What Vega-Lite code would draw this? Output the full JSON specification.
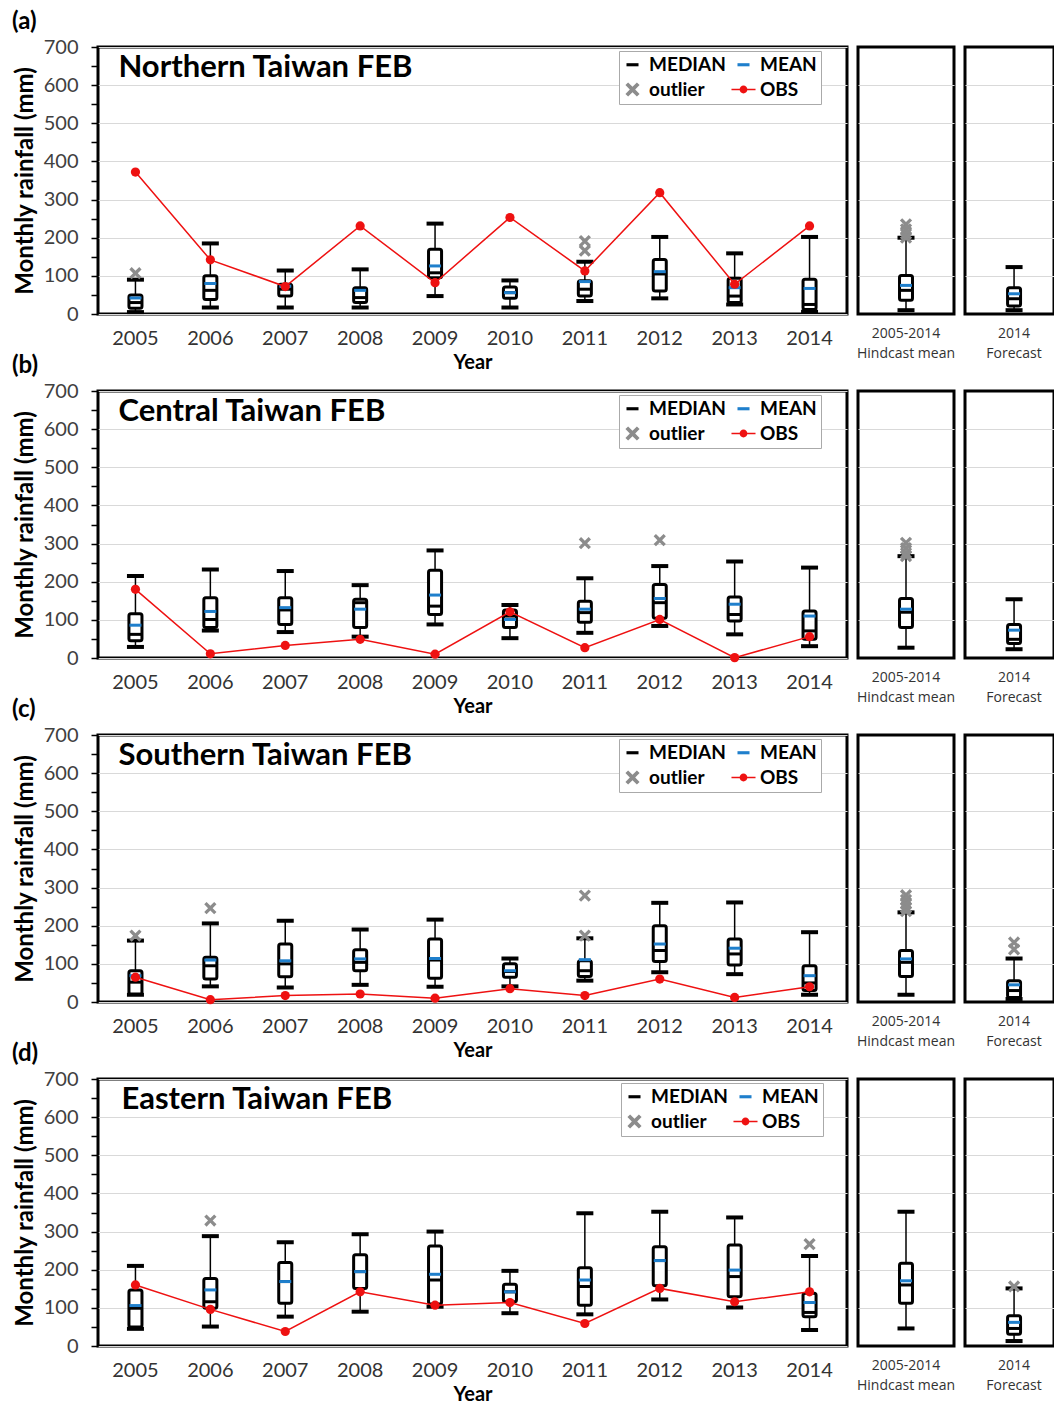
{
"$schema":"https://vega.github.io/schema/vega-lite/v6.json",
"padding":{"left":10,"top":8,"right":2,"bottom":2},
"bounds":"flush",
"columns":3,
"spacing":{"row":77,"column":11},
"config":{"view":{"stroke":"black","strokeWidth":3},"axis":{"gridColor":"#d9d9d9","gridWidth":1},"axisY":{"labelOverlap":false}},
"resolve":{"scale":{"color":"independent","shape":"independent"},"legend":{"color":"independent","shape":"independent"}},
"datasets":{
"box":[
{"r":"N","p":"m","x":"2005","lo":5,"q1":15,"md":30,"q3":50,"hi":90,"mn":42,"ob":372},
{"r":"N","p":"m","x":"2006","lo":17,"q1":38,"md":62,"q3":100,"hi":185,"mn":80,"ob":142},
{"r":"N","p":"m","x":"2007","lo":17,"q1":47,"md":65,"q3":78,"hi":114,"mn":73,"ob":72},
{"r":"N","p":"m","x":"2008","lo":17,"q1":30,"md":43,"q3":69,"hi":117,"mn":62,"ob":231},
{"r":"N","p":"m","x":"2009","lo":47,"q1":95,"md":108,"q3":170,"hi":237,"mn":126,"ob":82},
{"r":"N","p":"m","x":"2010","lo":17,"q1":41,"md":56,"q3":71,"hi":88,"mn":56,"ob":253},
{"r":"N","p":"m","x":"2011","lo":34,"q1":47,"md":65,"q3":87,"hi":137,"mn":85,"ob":113},
{"r":"N","p":"m","x":"2012","lo":41,"q1":60,"md":105,"q3":143,"hi":202,"mn":111,"ob":318},
{"r":"N","p":"m","x":"2013","lo":25,"q1":30,"md":47,"q3":94,"hi":159,"mn":69,"ob":78},
{"r":"N","p":"m","x":"2014","lo":6,"q1":12,"md":25,"q3":91,"hi":202,"mn":67,"ob":231},
{"r":"N","p":"h","x":"2005-2014|Hindcast mean","lo":10,"q1":36,"md":62,"q3":101,"hi":200,"mn":75},
{"r":"N","p":"f","x":"2014|Forecast","lo":10,"q1":21,"md":40,"q3":69,"hi":123,"mn":53},
{"r":"C","p":"m","x":"2005","lo":29,"q1":45,"md":62,"q3":116,"hi":215,"mn":86,"ob":180},
{"r":"C","p":"m","x":"2006","lo":72,"q1":80,"md":101,"q3":158,"hi":232,"mn":122,"ob":11},
{"r":"C","p":"m","x":"2007","lo":68,"q1":88,"md":126,"q3":158,"hi":228,"mn":132,"ob":33},
{"r":"C","p":"m","x":"2008","lo":56,"q1":80,"md":145,"q3":154,"hi":191,"mn":128,"ob":49},
{"r":"C","p":"m","x":"2009","lo":88,"q1":114,"md":136,"q3":230,"hi":282,"mn":165,"ob":10},
{"r":"C","p":"m","x":"2010","lo":52,"q1":80,"md":110,"q3":126,"hi":139,"mn":101,"ob":121},
{"r":"C","p":"m","x":"2011","lo":66,"q1":94,"md":119,"q3":149,"hi":209,"mn":128,"ob":27},
{"r":"C","p":"m","x":"2012","lo":84,"q1":104,"md":145,"q3":193,"hi":241,"mn":156,"ob":101},
{"r":"C","p":"m","x":"2013","lo":62,"q1":97,"md":114,"q3":160,"hi":253,"mn":141,"ob":1},
{"r":"C","p":"m","x":"2014","lo":31,"q1":49,"md":71,"q3":123,"hi":237,"mn":110,"ob":56},
{"r":"C","p":"h","x":"2005-2014|Hindcast mean","lo":27,"q1":80,"md":120,"q3":156,"hi":267,"mn":128},
{"r":"C","p":"f","x":"2014|Forecast","lo":23,"q1":38,"md":49,"q3":88,"hi":154,"mn":73},
{"r":"S","p":"m","x":"2005","lo":19,"q1":21,"md":52,"q3":82,"hi":161,"mn":69,"ob":65},
{"r":"S","p":"m","x":"2006","lo":41,"q1":60,"md":95,"q3":117,"hi":206,"mn":110,"ob":6},
{"r":"S","p":"m","x":"2007","lo":38,"q1":66,"md":100,"q3":152,"hi":213,"mn":108,"ob":17},
{"r":"S","p":"m","x":"2008","lo":45,"q1":82,"md":104,"q3":137,"hi":190,"mn":113,"ob":21},
{"r":"S","p":"m","x":"2009","lo":40,"q1":62,"md":110,"q3":165,"hi":216,"mn":114,"ob":10},
{"r":"S","p":"m","x":"2010","lo":41,"q1":65,"md":80,"q3":100,"hi":114,"mn":82,"ob":35},
{"r":"S","p":"m","x":"2011","lo":56,"q1":67,"md":82,"q3":108,"hi":167,"mn":111,"ob":17},
{"r":"S","p":"m","x":"2012","lo":78,"q1":106,"md":135,"q3":200,"hi":260,"mn":152,"ob":60},
{"r":"S","p":"m","x":"2013","lo":73,"q1":97,"md":126,"q3":165,"hi":261,"mn":141,"ob":12},
{"r":"S","p":"m","x":"2014","lo":19,"q1":30,"md":50,"q3":95,"hi":183,"mn":69,"ob":40},
{"r":"S","p":"h","x":"2005-2014|Hindcast mean","lo":19,"q1":67,"md":104,"q3":135,"hi":235,"mn":113},
{"r":"S","p":"f","x":"2014|Forecast","lo":8,"q1":12,"md":30,"q3":56,"hi":114,"mn":45},
{"r":"E","p":"m","x":"2005","lo":45,"q1":50,"md":99,"q3":147,"hi":210,"mn":106,"ob":160},
{"r":"E","p":"m","x":"2006","lo":51,"q1":99,"md":116,"q3":177,"hi":288,"mn":147,"ob":96},
{"r":"E","p":"m","x":"2007","lo":77,"q1":112,"md":169,"q3":219,"hi":272,"mn":169,"ob":38},
{"r":"E","p":"m","x":"2008","lo":90,"q1":151,"md":195,"q3":239,"hi":293,"mn":195,"ob":142},
{"r":"E","p":"m","x":"2009","lo":103,"q1":110,"md":173,"q3":262,"hi":300,"mn":188,"ob":107},
{"r":"E","p":"m","x":"2010","lo":86,"q1":116,"md":142,"q3":162,"hi":197,"mn":142,"ob":114},
{"r":"E","p":"m","x":"2011","lo":83,"q1":107,"md":156,"q3":205,"hi":348,"mn":173,"ob":59},
{"r":"E","p":"m","x":"2012","lo":122,"q1":158,"md":224,"q3":260,"hi":352,"mn":224,"ob":151},
{"r":"E","p":"m","x":"2013","lo":101,"q1":129,"md":182,"q3":265,"hi":337,"mn":199,"ob":116},
{"r":"E","p":"m","x":"2014","lo":42,"q1":77,"md":88,"q3":138,"hi":236,"mn":114,"ob":142},
{"r":"E","p":"h","x":"2005-2014|Hindcast mean","lo":46,"q1":112,"md":160,"q3":217,"hi":352,"mn":171},
{"r":"E","p":"f","x":"2014|Forecast","lo":13,"q1":31,"md":46,"q3":79,"hi":151,"mn":62}
],
"out":[
{"r":"N","p":"m","x":"2005","v":107},
{"r":"N","p":"m","x":"2011","v":191},
{"r":"N","p":"m","x":"2011","v":166},
{"r":"N","p":"h","x":"2005-2014|Hindcast mean","v":235},
{"r":"N","p":"h","x":"2005-2014|Hindcast mean","v":222},
{"r":"N","p":"h","x":"2005-2014|Hindcast mean","v":210},
{"r":"N","p":"h","x":"2005-2014|Hindcast mean","v":200},
{"r":"C","p":"m","x":"2011","v":301},
{"r":"C","p":"m","x":"2012","v":309},
{"r":"C","p":"h","x":"2005-2014|Hindcast mean","v":302},
{"r":"C","p":"h","x":"2005-2014|Hindcast mean","v":288},
{"r":"C","p":"h","x":"2005-2014|Hindcast mean","v":275},
{"r":"C","p":"h","x":"2005-2014|Hindcast mean","v":267},
{"r":"S","p":"m","x":"2005","v":174},
{"r":"S","p":"m","x":"2006","v":246},
{"r":"S","p":"m","x":"2011","v":279},
{"r":"S","p":"m","x":"2011","v":174},
{"r":"S","p":"h","x":"2005-2014|Hindcast mean","v":280},
{"r":"S","p":"h","x":"2005-2014|Hindcast mean","v":268},
{"r":"S","p":"h","x":"2005-2014|Hindcast mean","v":257},
{"r":"S","p":"h","x":"2005-2014|Hindcast mean","v":247},
{"r":"S","p":"h","x":"2005-2014|Hindcast mean","v":238},
{"r":"S","p":"f","x":"2014|Forecast","v":156},
{"r":"S","p":"f","x":"2014|Forecast","v":138},
{"r":"E","p":"m","x":"2006","v":329},
{"r":"E","p":"m","x":"2014","v":267},
{"r":"E","p":"f","x":"2014|Forecast","v":156}
],
"leg":[{"s":"MEDIAN","x":"2014"},{"s":"MEAN","x":"2014"},{"s":"outlier","x":"2014"},{"s":"OBS","x":"2014"}]
},
"concat":[
{"width":749,"height":267,
"title":{"text":"(a)","anchor":"start","frame":"group","dx":-86,"offset":-21,"baseline":"bottom","fontSize":24,"font":"Lato","fontWeight":"bold","color":"black"},
"data":{"name":"box"},"transform":[{"filter":"datum.r=='N' && datum.p=='m'"}],
"encoding":{"x":{"field":"x","type":"nominal","scale":{"domain":["2005","2006","2007","2008","2009","2010","2011","2012","2013","2014"],"paddingInner":0.826,"paddingOuter":0.413},"axis":{"labelAngle":0,"ticks":false,"tickSize":0,"domain":false,"labelPadding":14,"labelFont":"Lato","labelFontSize":20,"labelColor":"#333333","title":"Year","titleFont":"Lato","titleFontSize":20,"titleFontWeight":"bold","titleColor":"black","titlePadding":4}}},
"layer":[
{"mark":{"type":"rule","color":"black","strokeWidth":1.5},"encoding":{"y":{"field":"lo","type":"quantitative","title":"Monthly rainfall (mm)","scale":{"domain":[0,700],"nice":false},"axis":{"values":[0,50,100,150,200,250,300,350,400,450,500,550,600,650,700],"labelOpacity":{"condition":{"test":"datum.value % 100 == 0","value":1},"value":0},"gridOpacity":{"condition":{"test":"datum.value % 100 == 0","value":1},"value":0},"labelOverlap":false,"grid":true,"domain":false,"ticks":true,"tickSize":7,"tickWidth":1.5,"tickColor":"black","labelPadding":13,"labelFont":"Lato","labelFontSize":20,"labelColor":"#404040","titleFont":"Lato","titleFontSize":24,"titleFontWeight":"bold","titleColor":"black","titlePadding":6}},"y2":{"field":"hi"}}},
{"mark":{"type":"tick","color":"black","thickness":4,"size":17,"opacity":1},"encoding":{"y":{"field":"lo","type":"quantitative","title":"Monthly rainfall (mm)","axis":{"values":[0,50,100,150,200,250,300,350,400,450,500,550,600,650,700],"labelOpacity":{"condition":{"test":"datum.value % 100 == 0","value":1},"value":0},"gridOpacity":{"condition":{"test":"datum.value % 100 == 0","value":1},"value":0},"labelOverlap":false,"grid":true,"domain":false,"ticks":true,"tickSize":7,"tickWidth":1.5,"tickColor":"black","labelPadding":13,"labelFont":"Lato","labelFontSize":20,"labelColor":"#404040","titleFont":"Lato","titleFontSize":24,"titleFontWeight":"bold","titleColor":"black","titlePadding":6}}}},
{"mark":{"type":"tick","color":"black","thickness":4,"size":17,"opacity":1},"encoding":{"y":{"field":"hi","type":"quantitative","title":"Monthly rainfall (mm)","axis":{"values":[0,50,100,150,200,250,300,350,400,450,500,550,600,650,700],"labelOpacity":{"condition":{"test":"datum.value % 100 == 0","value":1},"value":0},"gridOpacity":{"condition":{"test":"datum.value % 100 == 0","value":1},"value":0},"labelOverlap":false,"grid":true,"domain":false,"ticks":true,"tickSize":7,"tickWidth":1.5,"tickColor":"black","labelPadding":13,"labelFont":"Lato","labelFontSize":20,"labelColor":"#404040","titleFont":"Lato","titleFontSize":24,"titleFontWeight":"bold","titleColor":"black","titlePadding":6}}}},
{"mark":{"type":"bar","fill":"white","stroke":"black","strokeWidth":3,"cornerRadius":2},"encoding":{"y":{"field":"q1","type":"quantitative","title":"Monthly rainfall (mm)","axis":{"values":[0,50,100,150,200,250,300,350,400,450,500,550,600,650,700],"labelOpacity":{"condition":{"test":"datum.value % 100 == 0","value":1},"value":0},"gridOpacity":{"condition":{"test":"datum.value % 100 == 0","value":1},"value":0},"labelOverlap":false,"grid":true,"domain":false,"ticks":true,"tickSize":7,"tickWidth":1.5,"tickColor":"black","labelPadding":13,"labelFont":"Lato","labelFontSize":20,"labelColor":"#404040","titleFont":"Lato","titleFontSize":24,"titleFontWeight":"bold","titleColor":"black","titlePadding":6}},"y2":{"field":"q3"}}},
{"mark":{"type":"tick","color":"black","thickness":3,"size":12,"opacity":1},"encoding":{"y":{"field":"md","type":"quantitative","title":"Monthly rainfall (mm)","axis":{"values":[0,50,100,150,200,250,300,350,400,450,500,550,600,650,700],"labelOpacity":{"condition":{"test":"datum.value % 100 == 0","value":1},"value":0},"gridOpacity":{"condition":{"test":"datum.value % 100 == 0","value":1},"value":0},"labelOverlap":false,"grid":true,"domain":false,"ticks":true,"tickSize":7,"tickWidth":1.5,"tickColor":"black","labelPadding":13,"labelFont":"Lato","labelFontSize":20,"labelColor":"#404040","titleFont":"Lato","titleFontSize":24,"titleFontWeight":"bold","titleColor":"black","titlePadding":6}}}},
{"mark":{"type":"tick","color":"#1f7fcc","thickness":3,"size":12,"opacity":1},"encoding":{"y":{"field":"mn","type":"quantitative","title":"Monthly rainfall (mm)","axis":{"values":[0,50,100,150,200,250,300,350,400,450,500,550,600,650,700],"labelOpacity":{"condition":{"test":"datum.value % 100 == 0","value":1},"value":0},"gridOpacity":{"condition":{"test":"datum.value % 100 == 0","value":1},"value":0},"labelOverlap":false,"grid":true,"domain":false,"ticks":true,"tickSize":7,"tickWidth":1.5,"tickColor":"black","labelPadding":13,"labelFont":"Lato","labelFontSize":20,"labelColor":"#404040","titleFont":"Lato","titleFontSize":24,"titleFontWeight":"bold","titleColor":"black","titlePadding":6}}}},
{"data":{"name":"out"},"transform":[{"filter":"datum.r=='N' && datum.p=='m'"}],"mark":{"type":"point","shape":"M-0.62,-1L0,-0.38L0.62,-1L1,-0.62L0.38,0L1,0.62L0.62,1L0,0.38L-0.62,1L-1,0.62L-0.38,0L-1,-0.62Z","filled":true,"color":"#8c8c8c","size":150,"opacity":1},"encoding":{"y":{"field":"v","type":"quantitative","title":"Monthly rainfall (mm)","axis":{"values":[0,50,100,150,200,250,300,350,400,450,500,550,600,650,700],"labelOpacity":{"condition":{"test":"datum.value % 100 == 0","value":1},"value":0},"gridOpacity":{"condition":{"test":"datum.value % 100 == 0","value":1},"value":0},"labelOverlap":false,"grid":true,"domain":false,"ticks":true,"tickSize":7,"tickWidth":1.5,"tickColor":"black","labelPadding":13,"labelFont":"Lato","labelFontSize":20,"labelColor":"#404040","titleFont":"Lato","titleFontSize":24,"titleFontWeight":"bold","titleColor":"black","titlePadding":6}}}},
{"mark":{"type":"line","color":"#ee1111","strokeWidth":1.5},"encoding":{"y":{"field":"ob","type":"quantitative","title":"Monthly rainfall (mm)","axis":{"values":[0,50,100,150,200,250,300,350,400,450,500,550,600,650,700],"labelOpacity":{"condition":{"test":"datum.value % 100 == 0","value":1},"value":0},"gridOpacity":{"condition":{"test":"datum.value % 100 == 0","value":1},"value":0},"labelOverlap":false,"grid":true,"domain":false,"ticks":true,"tickSize":7,"tickWidth":1.5,"tickColor":"black","labelPadding":13,"labelFont":"Lato","labelFontSize":20,"labelColor":"#404040","titleFont":"Lato","titleFontSize":24,"titleFontWeight":"bold","titleColor":"black","titlePadding":6}}}},
{"mark":{"type":"point","shape":"circle","filled":true,"color":"#ee1111","size":85,"opacity":1},"encoding":{"y":{"field":"ob","type":"quantitative","title":"Monthly rainfall (mm)","axis":{"values":[0,50,100,150,200,250,300,350,400,450,500,550,600,650,700],"labelOpacity":{"condition":{"test":"datum.value % 100 == 0","value":1},"value":0},"gridOpacity":{"condition":{"test":"datum.value % 100 == 0","value":1},"value":0},"labelOverlap":false,"grid":true,"domain":false,"ticks":true,"tickSize":7,"tickWidth":1.5,"tickColor":"black","labelPadding":13,"labelFont":"Lato","labelFontSize":20,"labelColor":"#404040","titleFont":"Lato","titleFontSize":24,"titleFontWeight":"bold","titleColor":"black","titlePadding":6}}}},
{"data":{"values":[{"t":"Northern Taiwan FEB"}]},"mark":{"type":"text","align":"left","baseline":"middle","dx":-17,"fontSize":31,"font":"Lato","fontWeight":"bold","color":"black"},"encoding":{"x":{"datum":"2005","type":"nominal"},"y":{"datum":645,"type":"quantitative","title":"Monthly rainfall (mm)","axis":{"values":[0,50,100,150,200,250,300,350,400,450,500,550,600,650,700],"labelOpacity":{"condition":{"test":"datum.value % 100 == 0","value":1},"value":0},"gridOpacity":{"condition":{"test":"datum.value % 100 == 0","value":1},"value":0},"labelOverlap":false,"grid":true,"domain":false,"ticks":true,"tickSize":7,"tickWidth":1.5,"tickColor":"black","labelPadding":13,"labelFont":"Lato","labelFontSize":20,"labelColor":"#404040","titleFont":"Lato","titleFontSize":24,"titleFontWeight":"bold","titleColor":"black","titlePadding":6}},"text":{"field":"t"}}},
{"data":{"name":"leg"},"mark":{"type":"point","filled":true,"opacity":1},"encoding":{"y":{"field":"nv","type":"quantitative","title":"Monthly rainfall (mm)","axis":{"values":[0,50,100,150,200,250,300,350,400,450,500,550,600,650,700],"labelOpacity":{"condition":{"test":"datum.value % 100 == 0","value":1},"value":0},"gridOpacity":{"condition":{"test":"datum.value % 100 == 0","value":1},"value":0},"labelOverlap":false,"grid":true,"domain":false,"ticks":true,"tickSize":7,"tickWidth":1.5,"tickColor":"black","labelPadding":13,"labelFont":"Lato","labelFontSize":20,"labelColor":"#404040","titleFont":"Lato","titleFontSize":24,"titleFontWeight":"bold","titleColor":"black","titlePadding":6}},
"color":{"field":"s","type":"nominal","scale":{"domain":["MEDIAN","outlier","MEAN","OBS"],"range":["#000000","#8c8c8c","#1f7fcc","#ee1111"]},"legend":{"title":null,"orient":"none","legendX":521,"legendY":4,"columns":2,"padding":4,"rowPadding":5,"columnPadding":5,"fillColor":"white","strokeColor":"#aaaaaa","labelFont":"Lato","labelFontSize":19,"labelFontWeight":"bold","labelColor":"black","symbolSize":200,"symbolStrokeWidth":0,"labelOffset":7}},
"shape":{"field":"s","type":"nominal","scale":{"domain":["MEDIAN","outlier","MEAN","OBS"],"range":["M-0.85,-0.22H0.85V0.22H-0.85Z","M-0.62,-1L0,-0.38L0.62,-1L1,-0.62L0.38,0L1,0.62L0.62,1L0,0.38L-0.62,1L-1,0.62L-0.38,0L-1,-0.62Z","M-0.85,-0.22H0.85V0.22H-0.85Z","M-1.7,-0.12H1.7V0.12H-1.7Z M0.55,0A0.55,0.55 0 1 1 -0.55,0A0.55,0.55 0 1 1 0.55,0Z"]},"legend":{"title":null,"orient":"none","legendX":521,"legendY":4,"columns":2,"padding":4,"rowPadding":5,"columnPadding":5,"fillColor":"white","strokeColor":"#aaaaaa","labelFont":"Lato","labelFontSize":19,"labelFontWeight":"bold","labelColor":"black","symbolSize":200,"symbolStrokeWidth":0,"labelOffset":7}}}}
]},
{"width":96,"height":267,
"data":{"name":"box"},"transform":[{"filter":"datum.r=='N' && datum.p=='h'"}],
"encoding":{"x":{"field":"x","type":"nominal","scale":{"domain":["2005-2014|Hindcast mean"],"paddingInner":0.827,"paddingOuter":0.5535},"axis":{"labelExpr":"split(datum.label,'|')","labelAngle":0,"ticks":false,"tickSize":0,"domain":false,"labelPadding":12,"labelFont":"Open Sans","labelFontSize":14,"labelColor":"#333333","labelLineHeight":20,"title":null}}},
"layer":[
{"mark":{"type":"rule","color":"black","strokeWidth":1.5},"encoding":{"y":{"field":"lo","type":"quantitative","scale":{"domain":[0,700],"nice":false},"axis":{"values":[100,200,300,400,500,600],"grid":true,"labels":false,"ticks":false,"domain":false,"title":null}},"y2":{"field":"hi"}}},
{"mark":{"type":"tick","color":"black","thickness":4,"size":17,"opacity":1},"encoding":{"y":{"field":"lo","type":"quantitative"}}},
{"mark":{"type":"tick","color":"black","thickness":4,"size":17,"opacity":1},"encoding":{"y":{"field":"hi","type":"quantitative"}}},
{"mark":{"type":"bar","fill":"white","stroke":"black","strokeWidth":3,"cornerRadius":2},"encoding":{"y":{"field":"q1","type":"quantitative"},"y2":{"field":"q3"}}},
{"mark":{"type":"tick","color":"black","thickness":3,"size":12,"opacity":1},"encoding":{"y":{"field":"md","type":"quantitative"}}},
{"mark":{"type":"tick","color":"#1f7fcc","thickness":3,"size":12,"opacity":1},"encoding":{"y":{"field":"mn","type":"quantitative"}}},
{"data":{"name":"out"},"transform":[{"filter":"datum.r=='N' && datum.p=='h'"}],"mark":{"type":"point","shape":"M-0.62,-1L0,-0.38L0.62,-1L1,-0.62L0.38,0L1,0.62L0.62,1L0,0.38L-0.62,1L-1,0.62L-0.38,0L-1,-0.62Z","filled":true,"color":"#8c8c8c","size":150,"opacity":1},"encoding":{"y":{"field":"v","type":"quantitative"}}}
]},
{"width":89,"height":267,
"data":{"name":"box"},"transform":[{"filter":"datum.r=='N' && datum.p=='f'"}],
"encoding":{"x":{"field":"x","type":"nominal","scale":{"domain":["2014|Forecast"],"paddingInner":0.827,"paddingOuter":0.507,"align":0.56},"axis":{"labelExpr":"split(datum.label,'|')","labelAngle":0,"ticks":false,"tickSize":0,"domain":false,"labelPadding":12,"labelFont":"Open Sans","labelFontSize":14,"labelColor":"#333333","labelLineHeight":20,"title":null}}},
"layer":[
{"mark":{"type":"rule","color":"black","strokeWidth":1.5},"encoding":{"y":{"field":"lo","type":"quantitative","scale":{"domain":[0,700],"nice":false},"axis":{"values":[100,200,300,400,500,600],"grid":true,"labels":false,"ticks":false,"domain":false,"title":null}},"y2":{"field":"hi"}}},
{"mark":{"type":"tick","color":"black","thickness":4,"size":17,"opacity":1},"encoding":{"y":{"field":"lo","type":"quantitative"}}},
{"mark":{"type":"tick","color":"black","thickness":4,"size":17,"opacity":1},"encoding":{"y":{"field":"hi","type":"quantitative"}}},
{"mark":{"type":"bar","fill":"white","stroke":"black","strokeWidth":3,"cornerRadius":2},"encoding":{"y":{"field":"q1","type":"quantitative"},"y2":{"field":"q3"}}},
{"mark":{"type":"tick","color":"black","thickness":3,"size":12,"opacity":1},"encoding":{"y":{"field":"md","type":"quantitative"}}},
{"mark":{"type":"tick","color":"#1f7fcc","thickness":3,"size":12,"opacity":1},"encoding":{"y":{"field":"mn","type":"quantitative"}}}
]},
{"width":749,"height":267,
"title":{"text":"(b)","anchor":"start","frame":"group","dx":-86,"offset":-21,"baseline":"bottom","fontSize":24,"font":"Lato","fontWeight":"bold","color":"black"},
"data":{"name":"box"},"transform":[{"filter":"datum.r=='C' && datum.p=='m'"}],
"encoding":{"x":{"field":"x","type":"nominal","scale":{"domain":["2005","2006","2007","2008","2009","2010","2011","2012","2013","2014"],"paddingInner":0.826,"paddingOuter":0.413},"axis":{"labelAngle":0,"ticks":false,"tickSize":0,"domain":false,"labelPadding":14,"labelFont":"Lato","labelFontSize":20,"labelColor":"#333333","title":"Year","titleFont":"Lato","titleFontSize":20,"titleFontWeight":"bold","titleColor":"black","titlePadding":4}}},
"layer":[
{"mark":{"type":"rule","color":"black","strokeWidth":1.5},"encoding":{"y":{"field":"lo","type":"quantitative","title":"Monthly rainfall (mm)","scale":{"domain":[0,700],"nice":false},"axis":{"values":[0,50,100,150,200,250,300,350,400,450,500,550,600,650,700],"labelOpacity":{"condition":{"test":"datum.value % 100 == 0","value":1},"value":0},"gridOpacity":{"condition":{"test":"datum.value % 100 == 0","value":1},"value":0},"labelOverlap":false,"grid":true,"domain":false,"ticks":true,"tickSize":7,"tickWidth":1.5,"tickColor":"black","labelPadding":13,"labelFont":"Lato","labelFontSize":20,"labelColor":"#404040","titleFont":"Lato","titleFontSize":24,"titleFontWeight":"bold","titleColor":"black","titlePadding":6}},"y2":{"field":"hi"}}},
{"mark":{"type":"tick","color":"black","thickness":4,"size":17,"opacity":1},"encoding":{"y":{"field":"lo","type":"quantitative","title":"Monthly rainfall (mm)","axis":{"values":[0,50,100,150,200,250,300,350,400,450,500,550,600,650,700],"labelOpacity":{"condition":{"test":"datum.value % 100 == 0","value":1},"value":0},"gridOpacity":{"condition":{"test":"datum.value % 100 == 0","value":1},"value":0},"labelOverlap":false,"grid":true,"domain":false,"ticks":true,"tickSize":7,"tickWidth":1.5,"tickColor":"black","labelPadding":13,"labelFont":"Lato","labelFontSize":20,"labelColor":"#404040","titleFont":"Lato","titleFontSize":24,"titleFontWeight":"bold","titleColor":"black","titlePadding":6}}}},
{"mark":{"type":"tick","color":"black","thickness":4,"size":17,"opacity":1},"encoding":{"y":{"field":"hi","type":"quantitative","title":"Monthly rainfall (mm)","axis":{"values":[0,50,100,150,200,250,300,350,400,450,500,550,600,650,700],"labelOpacity":{"condition":{"test":"datum.value % 100 == 0","value":1},"value":0},"gridOpacity":{"condition":{"test":"datum.value % 100 == 0","value":1},"value":0},"labelOverlap":false,"grid":true,"domain":false,"ticks":true,"tickSize":7,"tickWidth":1.5,"tickColor":"black","labelPadding":13,"labelFont":"Lato","labelFontSize":20,"labelColor":"#404040","titleFont":"Lato","titleFontSize":24,"titleFontWeight":"bold","titleColor":"black","titlePadding":6}}}},
{"mark":{"type":"bar","fill":"white","stroke":"black","strokeWidth":3,"cornerRadius":2},"encoding":{"y":{"field":"q1","type":"quantitative","title":"Monthly rainfall (mm)","axis":{"values":[0,50,100,150,200,250,300,350,400,450,500,550,600,650,700],"labelOpacity":{"condition":{"test":"datum.value % 100 == 0","value":1},"value":0},"gridOpacity":{"condition":{"test":"datum.value % 100 == 0","value":1},"value":0},"labelOverlap":false,"grid":true,"domain":false,"ticks":true,"tickSize":7,"tickWidth":1.5,"tickColor":"black","labelPadding":13,"labelFont":"Lato","labelFontSize":20,"labelColor":"#404040","titleFont":"Lato","titleFontSize":24,"titleFontWeight":"bold","titleColor":"black","titlePadding":6}},"y2":{"field":"q3"}}},
{"mark":{"type":"tick","color":"black","thickness":3,"size":12,"opacity":1},"encoding":{"y":{"field":"md","type":"quantitative","title":"Monthly rainfall (mm)","axis":{"values":[0,50,100,150,200,250,300,350,400,450,500,550,600,650,700],"labelOpacity":{"condition":{"test":"datum.value % 100 == 0","value":1},"value":0},"gridOpacity":{"condition":{"test":"datum.value % 100 == 0","value":1},"value":0},"labelOverlap":false,"grid":true,"domain":false,"ticks":true,"tickSize":7,"tickWidth":1.5,"tickColor":"black","labelPadding":13,"labelFont":"Lato","labelFontSize":20,"labelColor":"#404040","titleFont":"Lato","titleFontSize":24,"titleFontWeight":"bold","titleColor":"black","titlePadding":6}}}},
{"mark":{"type":"tick","color":"#1f7fcc","thickness":3,"size":12,"opacity":1},"encoding":{"y":{"field":"mn","type":"quantitative","title":"Monthly rainfall (mm)","axis":{"values":[0,50,100,150,200,250,300,350,400,450,500,550,600,650,700],"labelOpacity":{"condition":{"test":"datum.value % 100 == 0","value":1},"value":0},"gridOpacity":{"condition":{"test":"datum.value % 100 == 0","value":1},"value":0},"labelOverlap":false,"grid":true,"domain":false,"ticks":true,"tickSize":7,"tickWidth":1.5,"tickColor":"black","labelPadding":13,"labelFont":"Lato","labelFontSize":20,"labelColor":"#404040","titleFont":"Lato","titleFontSize":24,"titleFontWeight":"bold","titleColor":"black","titlePadding":6}}}},
{"data":{"name":"out"},"transform":[{"filter":"datum.r=='C' && datum.p=='m'"}],"mark":{"type":"point","shape":"M-0.62,-1L0,-0.38L0.62,-1L1,-0.62L0.38,0L1,0.62L0.62,1L0,0.38L-0.62,1L-1,0.62L-0.38,0L-1,-0.62Z","filled":true,"color":"#8c8c8c","size":150,"opacity":1},"encoding":{"y":{"field":"v","type":"quantitative","title":"Monthly rainfall (mm)","axis":{"values":[0,50,100,150,200,250,300,350,400,450,500,550,600,650,700],"labelOpacity":{"condition":{"test":"datum.value % 100 == 0","value":1},"value":0},"gridOpacity":{"condition":{"test":"datum.value % 100 == 0","value":1},"value":0},"labelOverlap":false,"grid":true,"domain":false,"ticks":true,"tickSize":7,"tickWidth":1.5,"tickColor":"black","labelPadding":13,"labelFont":"Lato","labelFontSize":20,"labelColor":"#404040","titleFont":"Lato","titleFontSize":24,"titleFontWeight":"bold","titleColor":"black","titlePadding":6}}}},
{"mark":{"type":"line","color":"#ee1111","strokeWidth":1.5},"encoding":{"y":{"field":"ob","type":"quantitative","title":"Monthly rainfall (mm)","axis":{"values":[0,50,100,150,200,250,300,350,400,450,500,550,600,650,700],"labelOpacity":{"condition":{"test":"datum.value % 100 == 0","value":1},"value":0},"gridOpacity":{"condition":{"test":"datum.value % 100 == 0","value":1},"value":0},"labelOverlap":false,"grid":true,"domain":false,"ticks":true,"tickSize":7,"tickWidth":1.5,"tickColor":"black","labelPadding":13,"labelFont":"Lato","labelFontSize":20,"labelColor":"#404040","titleFont":"Lato","titleFontSize":24,"titleFontWeight":"bold","titleColor":"black","titlePadding":6}}}},
{"mark":{"type":"point","shape":"circle","filled":true,"color":"#ee1111","size":85,"opacity":1},"encoding":{"y":{"field":"ob","type":"quantitative","title":"Monthly rainfall (mm)","axis":{"values":[0,50,100,150,200,250,300,350,400,450,500,550,600,650,700],"labelOpacity":{"condition":{"test":"datum.value % 100 == 0","value":1},"value":0},"gridOpacity":{"condition":{"test":"datum.value % 100 == 0","value":1},"value":0},"labelOverlap":false,"grid":true,"domain":false,"ticks":true,"tickSize":7,"tickWidth":1.5,"tickColor":"black","labelPadding":13,"labelFont":"Lato","labelFontSize":20,"labelColor":"#404040","titleFont":"Lato","titleFontSize":24,"titleFontWeight":"bold","titleColor":"black","titlePadding":6}}}},
{"data":{"values":[{"t":"Central Taiwan FEB"}]},"mark":{"type":"text","align":"left","baseline":"middle","dx":-17,"fontSize":31,"font":"Lato","fontWeight":"bold","color":"black"},"encoding":{"x":{"datum":"2005","type":"nominal"},"y":{"datum":645,"type":"quantitative","title":"Monthly rainfall (mm)","axis":{"values":[0,50,100,150,200,250,300,350,400,450,500,550,600,650,700],"labelOpacity":{"condition":{"test":"datum.value % 100 == 0","value":1},"value":0},"gridOpacity":{"condition":{"test":"datum.value % 100 == 0","value":1},"value":0},"labelOverlap":false,"grid":true,"domain":false,"ticks":true,"tickSize":7,"tickWidth":1.5,"tickColor":"black","labelPadding":13,"labelFont":"Lato","labelFontSize":20,"labelColor":"#404040","titleFont":"Lato","titleFontSize":24,"titleFontWeight":"bold","titleColor":"black","titlePadding":6}},"text":{"field":"t"}}},
{"data":{"name":"leg"},"mark":{"type":"point","filled":true,"opacity":1},"encoding":{"y":{"field":"nv","type":"quantitative","title":"Monthly rainfall (mm)","axis":{"values":[0,50,100,150,200,250,300,350,400,450,500,550,600,650,700],"labelOpacity":{"condition":{"test":"datum.value % 100 == 0","value":1},"value":0},"gridOpacity":{"condition":{"test":"datum.value % 100 == 0","value":1},"value":0},"labelOverlap":false,"grid":true,"domain":false,"ticks":true,"tickSize":7,"tickWidth":1.5,"tickColor":"black","labelPadding":13,"labelFont":"Lato","labelFontSize":20,"labelColor":"#404040","titleFont":"Lato","titleFontSize":24,"titleFontWeight":"bold","titleColor":"black","titlePadding":6}},
"color":{"field":"s","type":"nominal","scale":{"domain":["MEDIAN","outlier","MEAN","OBS"],"range":["#000000","#8c8c8c","#1f7fcc","#ee1111"]},"legend":{"title":null,"orient":"none","legendX":521,"legendY":4,"columns":2,"padding":4,"rowPadding":5,"columnPadding":5,"fillColor":"white","strokeColor":"#aaaaaa","labelFont":"Lato","labelFontSize":19,"labelFontWeight":"bold","labelColor":"black","symbolSize":200,"symbolStrokeWidth":0,"labelOffset":7}},
"shape":{"field":"s","type":"nominal","scale":{"domain":["MEDIAN","outlier","MEAN","OBS"],"range":["M-0.85,-0.22H0.85V0.22H-0.85Z","M-0.62,-1L0,-0.38L0.62,-1L1,-0.62L0.38,0L1,0.62L0.62,1L0,0.38L-0.62,1L-1,0.62L-0.38,0L-1,-0.62Z","M-0.85,-0.22H0.85V0.22H-0.85Z","M-1.7,-0.12H1.7V0.12H-1.7Z M0.55,0A0.55,0.55 0 1 1 -0.55,0A0.55,0.55 0 1 1 0.55,0Z"]},"legend":{"title":null,"orient":"none","legendX":521,"legendY":4,"columns":2,"padding":4,"rowPadding":5,"columnPadding":5,"fillColor":"white","strokeColor":"#aaaaaa","labelFont":"Lato","labelFontSize":19,"labelFontWeight":"bold","labelColor":"black","symbolSize":200,"symbolStrokeWidth":0,"labelOffset":7}}}}
]},
{"width":96,"height":267,
"data":{"name":"box"},"transform":[{"filter":"datum.r=='C' && datum.p=='h'"}],
"encoding":{"x":{"field":"x","type":"nominal","scale":{"domain":["2005-2014|Hindcast mean"],"paddingInner":0.827,"paddingOuter":0.5535},"axis":{"labelExpr":"split(datum.label,'|')","labelAngle":0,"ticks":false,"tickSize":0,"domain":false,"labelPadding":12,"labelFont":"Open Sans","labelFontSize":14,"labelColor":"#333333","labelLineHeight":20,"title":null}}},
"layer":[
{"mark":{"type":"rule","color":"black","strokeWidth":1.5},"encoding":{"y":{"field":"lo","type":"quantitative","scale":{"domain":[0,700],"nice":false},"axis":{"values":[100,200,300,400,500,600],"grid":true,"labels":false,"ticks":false,"domain":false,"title":null}},"y2":{"field":"hi"}}},
{"mark":{"type":"tick","color":"black","thickness":4,"size":17,"opacity":1},"encoding":{"y":{"field":"lo","type":"quantitative"}}},
{"mark":{"type":"tick","color":"black","thickness":4,"size":17,"opacity":1},"encoding":{"y":{"field":"hi","type":"quantitative"}}},
{"mark":{"type":"bar","fill":"white","stroke":"black","strokeWidth":3,"cornerRadius":2},"encoding":{"y":{"field":"q1","type":"quantitative"},"y2":{"field":"q3"}}},
{"mark":{"type":"tick","color":"black","thickness":3,"size":12,"opacity":1},"encoding":{"y":{"field":"md","type":"quantitative"}}},
{"mark":{"type":"tick","color":"#1f7fcc","thickness":3,"size":12,"opacity":1},"encoding":{"y":{"field":"mn","type":"quantitative"}}},
{"data":{"name":"out"},"transform":[{"filter":"datum.r=='C' && datum.p=='h'"}],"mark":{"type":"point","shape":"M-0.62,-1L0,-0.38L0.62,-1L1,-0.62L0.38,0L1,0.62L0.62,1L0,0.38L-0.62,1L-1,0.62L-0.38,0L-1,-0.62Z","filled":true,"color":"#8c8c8c","size":150,"opacity":1},"encoding":{"y":{"field":"v","type":"quantitative"}}}
]},
{"width":89,"height":267,
"data":{"name":"box"},"transform":[{"filter":"datum.r=='C' && datum.p=='f'"}],
"encoding":{"x":{"field":"x","type":"nominal","scale":{"domain":["2014|Forecast"],"paddingInner":0.827,"paddingOuter":0.507,"align":0.56},"axis":{"labelExpr":"split(datum.label,'|')","labelAngle":0,"ticks":false,"tickSize":0,"domain":false,"labelPadding":12,"labelFont":"Open Sans","labelFontSize":14,"labelColor":"#333333","labelLineHeight":20,"title":null}}},
"layer":[
{"mark":{"type":"rule","color":"black","strokeWidth":1.5},"encoding":{"y":{"field":"lo","type":"quantitative","scale":{"domain":[0,700],"nice":false},"axis":{"values":[100,200,300,400,500,600],"grid":true,"labels":false,"ticks":false,"domain":false,"title":null}},"y2":{"field":"hi"}}},
{"mark":{"type":"tick","color":"black","thickness":4,"size":17,"opacity":1},"encoding":{"y":{"field":"lo","type":"quantitative"}}},
{"mark":{"type":"tick","color":"black","thickness":4,"size":17,"opacity":1},"encoding":{"y":{"field":"hi","type":"quantitative"}}},
{"mark":{"type":"bar","fill":"white","stroke":"black","strokeWidth":3,"cornerRadius":2},"encoding":{"y":{"field":"q1","type":"quantitative"},"y2":{"field":"q3"}}},
{"mark":{"type":"tick","color":"black","thickness":3,"size":12,"opacity":1},"encoding":{"y":{"field":"md","type":"quantitative"}}},
{"mark":{"type":"tick","color":"#1f7fcc","thickness":3,"size":12,"opacity":1},"encoding":{"y":{"field":"mn","type":"quantitative"}}}
]},
{"width":749,"height":267,
"title":{"text":"(c)","anchor":"start","frame":"group","dx":-86,"offset":-21,"baseline":"bottom","fontSize":24,"font":"Lato","fontWeight":"bold","color":"black"},
"data":{"name":"box"},"transform":[{"filter":"datum.r=='S' && datum.p=='m'"}],
"encoding":{"x":{"field":"x","type":"nominal","scale":{"domain":["2005","2006","2007","2008","2009","2010","2011","2012","2013","2014"],"paddingInner":0.826,"paddingOuter":0.413},"axis":{"labelAngle":0,"ticks":false,"tickSize":0,"domain":false,"labelPadding":14,"labelFont":"Lato","labelFontSize":20,"labelColor":"#333333","title":"Year","titleFont":"Lato","titleFontSize":20,"titleFontWeight":"bold","titleColor":"black","titlePadding":4}}},
"layer":[
{"mark":{"type":"rule","color":"black","strokeWidth":1.5},"encoding":{"y":{"field":"lo","type":"quantitative","title":"Monthly rainfall (mm)","scale":{"domain":[0,700],"nice":false},"axis":{"values":[0,50,100,150,200,250,300,350,400,450,500,550,600,650,700],"labelOpacity":{"condition":{"test":"datum.value % 100 == 0","value":1},"value":0},"gridOpacity":{"condition":{"test":"datum.value % 100 == 0","value":1},"value":0},"labelOverlap":false,"grid":true,"domain":false,"ticks":true,"tickSize":7,"tickWidth":1.5,"tickColor":"black","labelPadding":13,"labelFont":"Lato","labelFontSize":20,"labelColor":"#404040","titleFont":"Lato","titleFontSize":24,"titleFontWeight":"bold","titleColor":"black","titlePadding":6}},"y2":{"field":"hi"}}},
{"mark":{"type":"tick","color":"black","thickness":4,"size":17,"opacity":1},"encoding":{"y":{"field":"lo","type":"quantitative","title":"Monthly rainfall (mm)","axis":{"values":[0,50,100,150,200,250,300,350,400,450,500,550,600,650,700],"labelOpacity":{"condition":{"test":"datum.value % 100 == 0","value":1},"value":0},"gridOpacity":{"condition":{"test":"datum.value % 100 == 0","value":1},"value":0},"labelOverlap":false,"grid":true,"domain":false,"ticks":true,"tickSize":7,"tickWidth":1.5,"tickColor":"black","labelPadding":13,"labelFont":"Lato","labelFontSize":20,"labelColor":"#404040","titleFont":"Lato","titleFontSize":24,"titleFontWeight":"bold","titleColor":"black","titlePadding":6}}}},
{"mark":{"type":"tick","color":"black","thickness":4,"size":17,"opacity":1},"encoding":{"y":{"field":"hi","type":"quantitative","title":"Monthly rainfall (mm)","axis":{"values":[0,50,100,150,200,250,300,350,400,450,500,550,600,650,700],"labelOpacity":{"condition":{"test":"datum.value % 100 == 0","value":1},"value":0},"gridOpacity":{"condition":{"test":"datum.value % 100 == 0","value":1},"value":0},"labelOverlap":false,"grid":true,"domain":false,"ticks":true,"tickSize":7,"tickWidth":1.5,"tickColor":"black","labelPadding":13,"labelFont":"Lato","labelFontSize":20,"labelColor":"#404040","titleFont":"Lato","titleFontSize":24,"titleFontWeight":"bold","titleColor":"black","titlePadding":6}}}},
{"mark":{"type":"bar","fill":"white","stroke":"black","strokeWidth":3,"cornerRadius":2},"encoding":{"y":{"field":"q1","type":"quantitative","title":"Monthly rainfall (mm)","axis":{"values":[0,50,100,150,200,250,300,350,400,450,500,550,600,650,700],"labelOpacity":{"condition":{"test":"datum.value % 100 == 0","value":1},"value":0},"gridOpacity":{"condition":{"test":"datum.value % 100 == 0","value":1},"value":0},"labelOverlap":false,"grid":true,"domain":false,"ticks":true,"tickSize":7,"tickWidth":1.5,"tickColor":"black","labelPadding":13,"labelFont":"Lato","labelFontSize":20,"labelColor":"#404040","titleFont":"Lato","titleFontSize":24,"titleFontWeight":"bold","titleColor":"black","titlePadding":6}},"y2":{"field":"q3"}}},
{"mark":{"type":"tick","color":"black","thickness":3,"size":12,"opacity":1},"encoding":{"y":{"field":"md","type":"quantitative","title":"Monthly rainfall (mm)","axis":{"values":[0,50,100,150,200,250,300,350,400,450,500,550,600,650,700],"labelOpacity":{"condition":{"test":"datum.value % 100 == 0","value":1},"value":0},"gridOpacity":{"condition":{"test":"datum.value % 100 == 0","value":1},"value":0},"labelOverlap":false,"grid":true,"domain":false,"ticks":true,"tickSize":7,"tickWidth":1.5,"tickColor":"black","labelPadding":13,"labelFont":"Lato","labelFontSize":20,"labelColor":"#404040","titleFont":"Lato","titleFontSize":24,"titleFontWeight":"bold","titleColor":"black","titlePadding":6}}}},
{"mark":{"type":"tick","color":"#1f7fcc","thickness":3,"size":12,"opacity":1},"encoding":{"y":{"field":"mn","type":"quantitative","title":"Monthly rainfall (mm)","axis":{"values":[0,50,100,150,200,250,300,350,400,450,500,550,600,650,700],"labelOpacity":{"condition":{"test":"datum.value % 100 == 0","value":1},"value":0},"gridOpacity":{"condition":{"test":"datum.value % 100 == 0","value":1},"value":0},"labelOverlap":false,"grid":true,"domain":false,"ticks":true,"tickSize":7,"tickWidth":1.5,"tickColor":"black","labelPadding":13,"labelFont":"Lato","labelFontSize":20,"labelColor":"#404040","titleFont":"Lato","titleFontSize":24,"titleFontWeight":"bold","titleColor":"black","titlePadding":6}}}},
{"data":{"name":"out"},"transform":[{"filter":"datum.r=='S' && datum.p=='m'"}],"mark":{"type":"point","shape":"M-0.62,-1L0,-0.38L0.62,-1L1,-0.62L0.38,0L1,0.62L0.62,1L0,0.38L-0.62,1L-1,0.62L-0.38,0L-1,-0.62Z","filled":true,"color":"#8c8c8c","size":150,"opacity":1},"encoding":{"y":{"field":"v","type":"quantitative","title":"Monthly rainfall (mm)","axis":{"values":[0,50,100,150,200,250,300,350,400,450,500,550,600,650,700],"labelOpacity":{"condition":{"test":"datum.value % 100 == 0","value":1},"value":0},"gridOpacity":{"condition":{"test":"datum.value % 100 == 0","value":1},"value":0},"labelOverlap":false,"grid":true,"domain":false,"ticks":true,"tickSize":7,"tickWidth":1.5,"tickColor":"black","labelPadding":13,"labelFont":"Lato","labelFontSize":20,"labelColor":"#404040","titleFont":"Lato","titleFontSize":24,"titleFontWeight":"bold","titleColor":"black","titlePadding":6}}}},
{"mark":{"type":"line","color":"#ee1111","strokeWidth":1.5},"encoding":{"y":{"field":"ob","type":"quantitative","title":"Monthly rainfall (mm)","axis":{"values":[0,50,100,150,200,250,300,350,400,450,500,550,600,650,700],"labelOpacity":{"condition":{"test":"datum.value % 100 == 0","value":1},"value":0},"gridOpacity":{"condition":{"test":"datum.value % 100 == 0","value":1},"value":0},"labelOverlap":false,"grid":true,"domain":false,"ticks":true,"tickSize":7,"tickWidth":1.5,"tickColor":"black","labelPadding":13,"labelFont":"Lato","labelFontSize":20,"labelColor":"#404040","titleFont":"Lato","titleFontSize":24,"titleFontWeight":"bold","titleColor":"black","titlePadding":6}}}},
{"mark":{"type":"point","shape":"circle","filled":true,"color":"#ee1111","size":85,"opacity":1},"encoding":{"y":{"field":"ob","type":"quantitative","title":"Monthly rainfall (mm)","axis":{"values":[0,50,100,150,200,250,300,350,400,450,500,550,600,650,700],"labelOpacity":{"condition":{"test":"datum.value % 100 == 0","value":1},"value":0},"gridOpacity":{"condition":{"test":"datum.value % 100 == 0","value":1},"value":0},"labelOverlap":false,"grid":true,"domain":false,"ticks":true,"tickSize":7,"tickWidth":1.5,"tickColor":"black","labelPadding":13,"labelFont":"Lato","labelFontSize":20,"labelColor":"#404040","titleFont":"Lato","titleFontSize":24,"titleFontWeight":"bold","titleColor":"black","titlePadding":6}}}},
{"data":{"values":[{"t":"Southern Taiwan FEB"}]},"mark":{"type":"text","align":"left","baseline":"middle","dx":-17,"fontSize":31,"font":"Lato","fontWeight":"bold","color":"black"},"encoding":{"x":{"datum":"2005","type":"nominal"},"y":{"datum":645,"type":"quantitative","title":"Monthly rainfall (mm)","axis":{"values":[0,50,100,150,200,250,300,350,400,450,500,550,600,650,700],"labelOpacity":{"condition":{"test":"datum.value % 100 == 0","value":1},"value":0},"gridOpacity":{"condition":{"test":"datum.value % 100 == 0","value":1},"value":0},"labelOverlap":false,"grid":true,"domain":false,"ticks":true,"tickSize":7,"tickWidth":1.5,"tickColor":"black","labelPadding":13,"labelFont":"Lato","labelFontSize":20,"labelColor":"#404040","titleFont":"Lato","titleFontSize":24,"titleFontWeight":"bold","titleColor":"black","titlePadding":6}},"text":{"field":"t"}}},
{"data":{"name":"leg"},"mark":{"type":"point","filled":true,"opacity":1},"encoding":{"y":{"field":"nv","type":"quantitative","title":"Monthly rainfall (mm)","axis":{"values":[0,50,100,150,200,250,300,350,400,450,500,550,600,650,700],"labelOpacity":{"condition":{"test":"datum.value % 100 == 0","value":1},"value":0},"gridOpacity":{"condition":{"test":"datum.value % 100 == 0","value":1},"value":0},"labelOverlap":false,"grid":true,"domain":false,"ticks":true,"tickSize":7,"tickWidth":1.5,"tickColor":"black","labelPadding":13,"labelFont":"Lato","labelFontSize":20,"labelColor":"#404040","titleFont":"Lato","titleFontSize":24,"titleFontWeight":"bold","titleColor":"black","titlePadding":6}},
"color":{"field":"s","type":"nominal","scale":{"domain":["MEDIAN","outlier","MEAN","OBS"],"range":["#000000","#8c8c8c","#1f7fcc","#ee1111"]},"legend":{"title":null,"orient":"none","legendX":521,"legendY":4,"columns":2,"padding":4,"rowPadding":5,"columnPadding":5,"fillColor":"white","strokeColor":"#aaaaaa","labelFont":"Lato","labelFontSize":19,"labelFontWeight":"bold","labelColor":"black","symbolSize":200,"symbolStrokeWidth":0,"labelOffset":7}},
"shape":{"field":"s","type":"nominal","scale":{"domain":["MEDIAN","outlier","MEAN","OBS"],"range":["M-0.85,-0.22H0.85V0.22H-0.85Z","M-0.62,-1L0,-0.38L0.62,-1L1,-0.62L0.38,0L1,0.62L0.62,1L0,0.38L-0.62,1L-1,0.62L-0.38,0L-1,-0.62Z","M-0.85,-0.22H0.85V0.22H-0.85Z","M-1.7,-0.12H1.7V0.12H-1.7Z M0.55,0A0.55,0.55 0 1 1 -0.55,0A0.55,0.55 0 1 1 0.55,0Z"]},"legend":{"title":null,"orient":"none","legendX":521,"legendY":4,"columns":2,"padding":4,"rowPadding":5,"columnPadding":5,"fillColor":"white","strokeColor":"#aaaaaa","labelFont":"Lato","labelFontSize":19,"labelFontWeight":"bold","labelColor":"black","symbolSize":200,"symbolStrokeWidth":0,"labelOffset":7}}}}
]},
{"width":96,"height":267,
"data":{"name":"box"},"transform":[{"filter":"datum.r=='S' && datum.p=='h'"}],
"encoding":{"x":{"field":"x","type":"nominal","scale":{"domain":["2005-2014|Hindcast mean"],"paddingInner":0.827,"paddingOuter":0.5535},"axis":{"labelExpr":"split(datum.label,'|')","labelAngle":0,"ticks":false,"tickSize":0,"domain":false,"labelPadding":12,"labelFont":"Open Sans","labelFontSize":14,"labelColor":"#333333","labelLineHeight":20,"title":null}}},
"layer":[
{"mark":{"type":"rule","color":"black","strokeWidth":1.5},"encoding":{"y":{"field":"lo","type":"quantitative","scale":{"domain":[0,700],"nice":false},"axis":{"values":[100,200,300,400,500,600],"grid":true,"labels":false,"ticks":false,"domain":false,"title":null}},"y2":{"field":"hi"}}},
{"mark":{"type":"tick","color":"black","thickness":4,"size":17,"opacity":1},"encoding":{"y":{"field":"lo","type":"quantitative"}}},
{"mark":{"type":"tick","color":"black","thickness":4,"size":17,"opacity":1},"encoding":{"y":{"field":"hi","type":"quantitative"}}},
{"mark":{"type":"bar","fill":"white","stroke":"black","strokeWidth":3,"cornerRadius":2},"encoding":{"y":{"field":"q1","type":"quantitative"},"y2":{"field":"q3"}}},
{"mark":{"type":"tick","color":"black","thickness":3,"size":12,"opacity":1},"encoding":{"y":{"field":"md","type":"quantitative"}}},
{"mark":{"type":"tick","color":"#1f7fcc","thickness":3,"size":12,"opacity":1},"encoding":{"y":{"field":"mn","type":"quantitative"}}},
{"data":{"name":"out"},"transform":[{"filter":"datum.r=='S' && datum.p=='h'"}],"mark":{"type":"point","shape":"M-0.62,-1L0,-0.38L0.62,-1L1,-0.62L0.38,0L1,0.62L0.62,1L0,0.38L-0.62,1L-1,0.62L-0.38,0L-1,-0.62Z","filled":true,"color":"#8c8c8c","size":150,"opacity":1},"encoding":{"y":{"field":"v","type":"quantitative"}}}
]},
{"width":89,"height":267,
"data":{"name":"box"},"transform":[{"filter":"datum.r=='S' && datum.p=='f'"}],
"encoding":{"x":{"field":"x","type":"nominal","scale":{"domain":["2014|Forecast"],"paddingInner":0.827,"paddingOuter":0.507,"align":0.56},"axis":{"labelExpr":"split(datum.label,'|')","labelAngle":0,"ticks":false,"tickSize":0,"domain":false,"labelPadding":12,"labelFont":"Open Sans","labelFontSize":14,"labelColor":"#333333","labelLineHeight":20,"title":null}}},
"layer":[
{"mark":{"type":"rule","color":"black","strokeWidth":1.5},"encoding":{"y":{"field":"lo","type":"quantitative","scale":{"domain":[0,700],"nice":false},"axis":{"values":[100,200,300,400,500,600],"grid":true,"labels":false,"ticks":false,"domain":false,"title":null}},"y2":{"field":"hi"}}},
{"mark":{"type":"tick","color":"black","thickness":4,"size":17,"opacity":1},"encoding":{"y":{"field":"lo","type":"quantitative"}}},
{"mark":{"type":"tick","color":"black","thickness":4,"size":17,"opacity":1},"encoding":{"y":{"field":"hi","type":"quantitative"}}},
{"mark":{"type":"bar","fill":"white","stroke":"black","strokeWidth":3,"cornerRadius":2},"encoding":{"y":{"field":"q1","type":"quantitative"},"y2":{"field":"q3"}}},
{"mark":{"type":"tick","color":"black","thickness":3,"size":12,"opacity":1},"encoding":{"y":{"field":"md","type":"quantitative"}}},
{"mark":{"type":"tick","color":"#1f7fcc","thickness":3,"size":12,"opacity":1},"encoding":{"y":{"field":"mn","type":"quantitative"}}},
{"data":{"name":"out"},"transform":[{"filter":"datum.r=='S' && datum.p=='f'"}],"mark":{"type":"point","shape":"M-0.62,-1L0,-0.38L0.62,-1L1,-0.62L0.38,0L1,0.62L0.62,1L0,0.38L-0.62,1L-1,0.62L-0.38,0L-1,-0.62Z","filled":true,"color":"#8c8c8c","size":150,"opacity":1},"encoding":{"y":{"field":"v","type":"quantitative"}}}
]},
{"width":749,"height":267,
"title":{"text":"(d)","anchor":"start","frame":"group","dx":-86,"offset":-21,"baseline":"bottom","fontSize":24,"font":"Lato","fontWeight":"bold","color":"black"},
"data":{"name":"box"},"transform":[{"filter":"datum.r=='E' && datum.p=='m'"}],
"encoding":{"x":{"field":"x","type":"nominal","scale":{"domain":["2005","2006","2007","2008","2009","2010","2011","2012","2013","2014"],"paddingInner":0.826,"paddingOuter":0.413},"axis":{"labelAngle":0,"ticks":false,"tickSize":0,"domain":false,"labelPadding":14,"labelFont":"Lato","labelFontSize":20,"labelColor":"#333333","title":"Year","titleFont":"Lato","titleFontSize":20,"titleFontWeight":"bold","titleColor":"black","titlePadding":4}}},
"layer":[
{"mark":{"type":"rule","color":"black","strokeWidth":1.5},"encoding":{"y":{"field":"lo","type":"quantitative","title":"Monthly rainfall (mm)","scale":{"domain":[0,700],"nice":false},"axis":{"values":[0,50,100,150,200,250,300,350,400,450,500,550,600,650,700],"labelOpacity":{"condition":{"test":"datum.value % 100 == 0","value":1},"value":0},"gridOpacity":{"condition":{"test":"datum.value % 100 == 0","value":1},"value":0},"labelOverlap":false,"grid":true,"domain":false,"ticks":true,"tickSize":7,"tickWidth":1.5,"tickColor":"black","labelPadding":13,"labelFont":"Lato","labelFontSize":20,"labelColor":"#404040","titleFont":"Lato","titleFontSize":24,"titleFontWeight":"bold","titleColor":"black","titlePadding":6}},"y2":{"field":"hi"}}},
{"mark":{"type":"tick","color":"black","thickness":4,"size":17,"opacity":1},"encoding":{"y":{"field":"lo","type":"quantitative","title":"Monthly rainfall (mm)","axis":{"values":[0,50,100,150,200,250,300,350,400,450,500,550,600,650,700],"labelOpacity":{"condition":{"test":"datum.value % 100 == 0","value":1},"value":0},"gridOpacity":{"condition":{"test":"datum.value % 100 == 0","value":1},"value":0},"labelOverlap":false,"grid":true,"domain":false,"ticks":true,"tickSize":7,"tickWidth":1.5,"tickColor":"black","labelPadding":13,"labelFont":"Lato","labelFontSize":20,"labelColor":"#404040","titleFont":"Lato","titleFontSize":24,"titleFontWeight":"bold","titleColor":"black","titlePadding":6}}}},
{"mark":{"type":"tick","color":"black","thickness":4,"size":17,"opacity":1},"encoding":{"y":{"field":"hi","type":"quantitative","title":"Monthly rainfall (mm)","axis":{"values":[0,50,100,150,200,250,300,350,400,450,500,550,600,650,700],"labelOpacity":{"condition":{"test":"datum.value % 100 == 0","value":1},"value":0},"gridOpacity":{"condition":{"test":"datum.value % 100 == 0","value":1},"value":0},"labelOverlap":false,"grid":true,"domain":false,"ticks":true,"tickSize":7,"tickWidth":1.5,"tickColor":"black","labelPadding":13,"labelFont":"Lato","labelFontSize":20,"labelColor":"#404040","titleFont":"Lato","titleFontSize":24,"titleFontWeight":"bold","titleColor":"black","titlePadding":6}}}},
{"mark":{"type":"bar","fill":"white","stroke":"black","strokeWidth":3,"cornerRadius":2},"encoding":{"y":{"field":"q1","type":"quantitative","title":"Monthly rainfall (mm)","axis":{"values":[0,50,100,150,200,250,300,350,400,450,500,550,600,650,700],"labelOpacity":{"condition":{"test":"datum.value % 100 == 0","value":1},"value":0},"gridOpacity":{"condition":{"test":"datum.value % 100 == 0","value":1},"value":0},"labelOverlap":false,"grid":true,"domain":false,"ticks":true,"tickSize":7,"tickWidth":1.5,"tickColor":"black","labelPadding":13,"labelFont":"Lato","labelFontSize":20,"labelColor":"#404040","titleFont":"Lato","titleFontSize":24,"titleFontWeight":"bold","titleColor":"black","titlePadding":6}},"y2":{"field":"q3"}}},
{"mark":{"type":"tick","color":"black","thickness":3,"size":12,"opacity":1},"encoding":{"y":{"field":"md","type":"quantitative","title":"Monthly rainfall (mm)","axis":{"values":[0,50,100,150,200,250,300,350,400,450,500,550,600,650,700],"labelOpacity":{"condition":{"test":"datum.value % 100 == 0","value":1},"value":0},"gridOpacity":{"condition":{"test":"datum.value % 100 == 0","value":1},"value":0},"labelOverlap":false,"grid":true,"domain":false,"ticks":true,"tickSize":7,"tickWidth":1.5,"tickColor":"black","labelPadding":13,"labelFont":"Lato","labelFontSize":20,"labelColor":"#404040","titleFont":"Lato","titleFontSize":24,"titleFontWeight":"bold","titleColor":"black","titlePadding":6}}}},
{"mark":{"type":"tick","color":"#1f7fcc","thickness":3,"size":12,"opacity":1},"encoding":{"y":{"field":"mn","type":"quantitative","title":"Monthly rainfall (mm)","axis":{"values":[0,50,100,150,200,250,300,350,400,450,500,550,600,650,700],"labelOpacity":{"condition":{"test":"datum.value % 100 == 0","value":1},"value":0},"gridOpacity":{"condition":{"test":"datum.value % 100 == 0","value":1},"value":0},"labelOverlap":false,"grid":true,"domain":false,"ticks":true,"tickSize":7,"tickWidth":1.5,"tickColor":"black","labelPadding":13,"labelFont":"Lato","labelFontSize":20,"labelColor":"#404040","titleFont":"Lato","titleFontSize":24,"titleFontWeight":"bold","titleColor":"black","titlePadding":6}}}},
{"data":{"name":"out"},"transform":[{"filter":"datum.r=='E' && datum.p=='m'"}],"mark":{"type":"point","shape":"M-0.62,-1L0,-0.38L0.62,-1L1,-0.62L0.38,0L1,0.62L0.62,1L0,0.38L-0.62,1L-1,0.62L-0.38,0L-1,-0.62Z","filled":true,"color":"#8c8c8c","size":150,"opacity":1},"encoding":{"y":{"field":"v","type":"quantitative","title":"Monthly rainfall (mm)","axis":{"values":[0,50,100,150,200,250,300,350,400,450,500,550,600,650,700],"labelOpacity":{"condition":{"test":"datum.value % 100 == 0","value":1},"value":0},"gridOpacity":{"condition":{"test":"datum.value % 100 == 0","value":1},"value":0},"labelOverlap":false,"grid":true,"domain":false,"ticks":true,"tickSize":7,"tickWidth":1.5,"tickColor":"black","labelPadding":13,"labelFont":"Lato","labelFontSize":20,"labelColor":"#404040","titleFont":"Lato","titleFontSize":24,"titleFontWeight":"bold","titleColor":"black","titlePadding":6}}}},
{"mark":{"type":"line","color":"#ee1111","strokeWidth":1.5},"encoding":{"y":{"field":"ob","type":"quantitative","title":"Monthly rainfall (mm)","axis":{"values":[0,50,100,150,200,250,300,350,400,450,500,550,600,650,700],"labelOpacity":{"condition":{"test":"datum.value % 100 == 0","value":1},"value":0},"gridOpacity":{"condition":{"test":"datum.value % 100 == 0","value":1},"value":0},"labelOverlap":false,"grid":true,"domain":false,"ticks":true,"tickSize":7,"tickWidth":1.5,"tickColor":"black","labelPadding":13,"labelFont":"Lato","labelFontSize":20,"labelColor":"#404040","titleFont":"Lato","titleFontSize":24,"titleFontWeight":"bold","titleColor":"black","titlePadding":6}}}},
{"mark":{"type":"point","shape":"circle","filled":true,"color":"#ee1111","size":85,"opacity":1},"encoding":{"y":{"field":"ob","type":"quantitative","title":"Monthly rainfall (mm)","axis":{"values":[0,50,100,150,200,250,300,350,400,450,500,550,600,650,700],"labelOpacity":{"condition":{"test":"datum.value % 100 == 0","value":1},"value":0},"gridOpacity":{"condition":{"test":"datum.value % 100 == 0","value":1},"value":0},"labelOverlap":false,"grid":true,"domain":false,"ticks":true,"tickSize":7,"tickWidth":1.5,"tickColor":"black","labelPadding":13,"labelFont":"Lato","labelFontSize":20,"labelColor":"#404040","titleFont":"Lato","titleFontSize":24,"titleFontWeight":"bold","titleColor":"black","titlePadding":6}}}},
{"data":{"values":[{"t":"Eastern Taiwan FEB"}]},"mark":{"type":"text","align":"left","baseline":"middle","dx":-14,"fontSize":31,"font":"Lato","fontWeight":"bold","color":"black"},"encoding":{"x":{"datum":"2005","type":"nominal"},"y":{"datum":645,"type":"quantitative","title":"Monthly rainfall (mm)","axis":{"values":[0,50,100,150,200,250,300,350,400,450,500,550,600,650,700],"labelOpacity":{"condition":{"test":"datum.value % 100 == 0","value":1},"value":0},"gridOpacity":{"condition":{"test":"datum.value % 100 == 0","value":1},"value":0},"labelOverlap":false,"grid":true,"domain":false,"ticks":true,"tickSize":7,"tickWidth":1.5,"tickColor":"black","labelPadding":13,"labelFont":"Lato","labelFontSize":20,"labelColor":"#404040","titleFont":"Lato","titleFontSize":24,"titleFontWeight":"bold","titleColor":"black","titlePadding":6}},"text":{"field":"t"}}},
{"data":{"name":"leg"},"mark":{"type":"point","filled":true,"opacity":1},"encoding":{"y":{"field":"nv","type":"quantitative","title":"Monthly rainfall (mm)","axis":{"values":[0,50,100,150,200,250,300,350,400,450,500,550,600,650,700],"labelOpacity":{"condition":{"test":"datum.value % 100 == 0","value":1},"value":0},"gridOpacity":{"condition":{"test":"datum.value % 100 == 0","value":1},"value":0},"labelOverlap":false,"grid":true,"domain":false,"ticks":true,"tickSize":7,"tickWidth":1.5,"tickColor":"black","labelPadding":13,"labelFont":"Lato","labelFontSize":20,"labelColor":"#404040","titleFont":"Lato","titleFontSize":24,"titleFontWeight":"bold","titleColor":"black","titlePadding":6}},
"color":{"field":"s","type":"nominal","scale":{"domain":["MEDIAN","outlier","MEAN","OBS"],"range":["#000000","#8c8c8c","#1f7fcc","#ee1111"]},"legend":{"title":null,"orient":"none","legendX":523,"legendY":4,"columns":2,"padding":4,"rowPadding":5,"columnPadding":5,"fillColor":"white","strokeColor":"#aaaaaa","labelFont":"Lato","labelFontSize":19,"labelFontWeight":"bold","labelColor":"black","symbolSize":200,"symbolStrokeWidth":0,"labelOffset":7}},
"shape":{"field":"s","type":"nominal","scale":{"domain":["MEDIAN","outlier","MEAN","OBS"],"range":["M-0.85,-0.22H0.85V0.22H-0.85Z","M-0.62,-1L0,-0.38L0.62,-1L1,-0.62L0.38,0L1,0.62L0.62,1L0,0.38L-0.62,1L-1,0.62L-0.38,0L-1,-0.62Z","M-0.85,-0.22H0.85V0.22H-0.85Z","M-1.7,-0.12H1.7V0.12H-1.7Z M0.55,0A0.55,0.55 0 1 1 -0.55,0A0.55,0.55 0 1 1 0.55,0Z"]},"legend":{"title":null,"orient":"none","legendX":523,"legendY":4,"columns":2,"padding":4,"rowPadding":5,"columnPadding":5,"fillColor":"white","strokeColor":"#aaaaaa","labelFont":"Lato","labelFontSize":19,"labelFontWeight":"bold","labelColor":"black","symbolSize":200,"symbolStrokeWidth":0,"labelOffset":7}}}}
]},
{"width":96,"height":267,
"data":{"name":"box"},"transform":[{"filter":"datum.r=='E' && datum.p=='h'"}],
"encoding":{"x":{"field":"x","type":"nominal","scale":{"domain":["2005-2014|Hindcast mean"],"paddingInner":0.827,"paddingOuter":0.5535},"axis":{"labelExpr":"split(datum.label,'|')","labelAngle":0,"ticks":false,"tickSize":0,"domain":false,"labelPadding":12,"labelFont":"Open Sans","labelFontSize":14,"labelColor":"#333333","labelLineHeight":20,"title":null}}},
"layer":[
{"mark":{"type":"rule","color":"black","strokeWidth":1.5},"encoding":{"y":{"field":"lo","type":"quantitative","scale":{"domain":[0,700],"nice":false},"axis":{"values":[100,200,300,400,500,600],"grid":true,"labels":false,"ticks":false,"domain":false,"title":null}},"y2":{"field":"hi"}}},
{"mark":{"type":"tick","color":"black","thickness":4,"size":17,"opacity":1},"encoding":{"y":{"field":"lo","type":"quantitative"}}},
{"mark":{"type":"tick","color":"black","thickness":4,"size":17,"opacity":1},"encoding":{"y":{"field":"hi","type":"quantitative"}}},
{"mark":{"type":"bar","fill":"white","stroke":"black","strokeWidth":3,"cornerRadius":2},"encoding":{"y":{"field":"q1","type":"quantitative"},"y2":{"field":"q3"}}},
{"mark":{"type":"tick","color":"black","thickness":3,"size":12,"opacity":1},"encoding":{"y":{"field":"md","type":"quantitative"}}},
{"mark":{"type":"tick","color":"#1f7fcc","thickness":3,"size":12,"opacity":1},"encoding":{"y":{"field":"mn","type":"quantitative"}}}
]},
{"width":89,"height":267,
"data":{"name":"box"},"transform":[{"filter":"datum.r=='E' && datum.p=='f'"}],
"encoding":{"x":{"field":"x","type":"nominal","scale":{"domain":["2014|Forecast"],"paddingInner":0.827,"paddingOuter":0.507,"align":0.56},"axis":{"labelExpr":"split(datum.label,'|')","labelAngle":0,"ticks":false,"tickSize":0,"domain":false,"labelPadding":12,"labelFont":"Open Sans","labelFontSize":14,"labelColor":"#333333","labelLineHeight":20,"title":null}}},
"layer":[
{"mark":{"type":"rule","color":"black","strokeWidth":1.5},"encoding":{"y":{"field":"lo","type":"quantitative","scale":{"domain":[0,700],"nice":false},"axis":{"values":[100,200,300,400,500,600],"grid":true,"labels":false,"ticks":false,"domain":false,"title":null}},"y2":{"field":"hi"}}},
{"mark":{"type":"tick","color":"black","thickness":4,"size":17,"opacity":1},"encoding":{"y":{"field":"lo","type":"quantitative"}}},
{"mark":{"type":"tick","color":"black","thickness":4,"size":17,"opacity":1},"encoding":{"y":{"field":"hi","type":"quantitative"}}},
{"mark":{"type":"bar","fill":"white","stroke":"black","strokeWidth":3,"cornerRadius":2},"encoding":{"y":{"field":"q1","type":"quantitative"},"y2":{"field":"q3"}}},
{"mark":{"type":"tick","color":"black","thickness":3,"size":12,"opacity":1},"encoding":{"y":{"field":"md","type":"quantitative"}}},
{"mark":{"type":"tick","color":"#1f7fcc","thickness":3,"size":12,"opacity":1},"encoding":{"y":{"field":"mn","type":"quantitative"}}},
{"data":{"name":"out"},"transform":[{"filter":"datum.r=='E' && datum.p=='f'"}],"mark":{"type":"point","shape":"M-0.62,-1L0,-0.38L0.62,-1L1,-0.62L0.38,0L1,0.62L0.62,1L0,0.38L-0.62,1L-1,0.62L-0.38,0L-1,-0.62Z","filled":true,"color":"#8c8c8c","size":150,"opacity":1},"encoding":{"y":{"field":"v","type":"quantitative"}}}
]}
]
}
